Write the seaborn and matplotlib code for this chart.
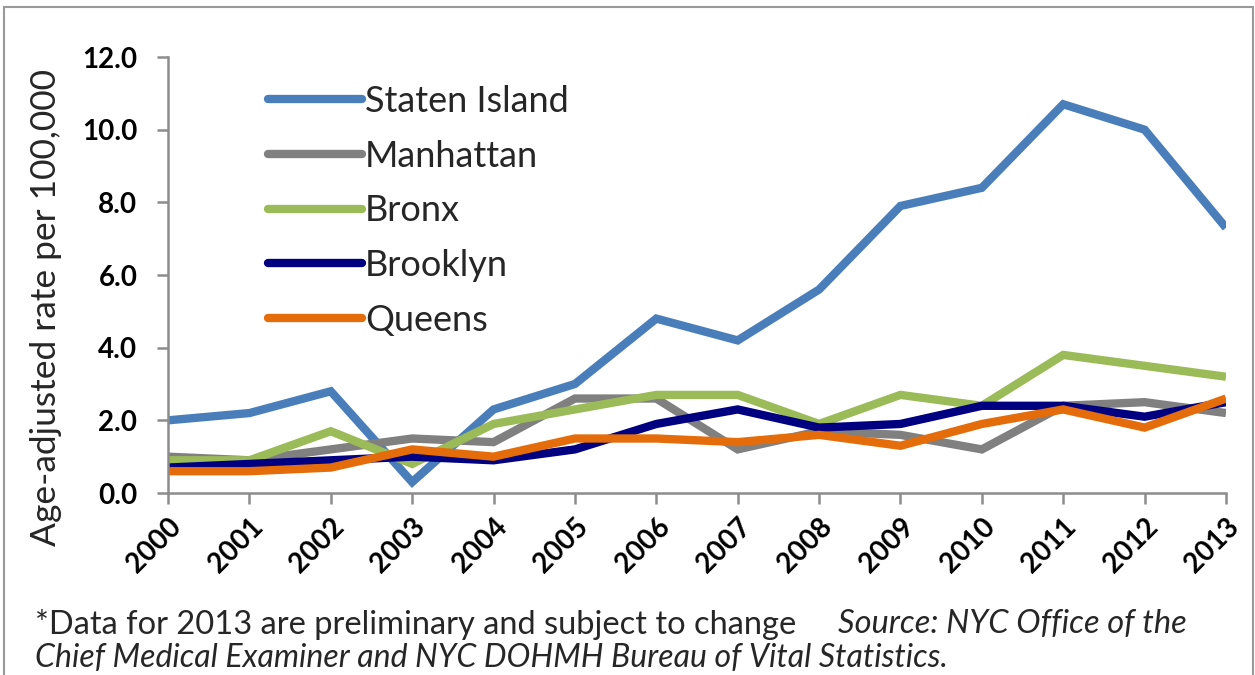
import matplotlib
matplotlib.use("Agg")
import matplotlib.pyplot as plt
import seaborn as sns
import pandas as pd
from matplotlib.patches import Rectangle

years = list(range(2000, 2014))
staten_island = [2.0, 2.2, 2.8, 0.3, 2.3, 3.0, 4.8, 4.2, 5.6, 7.9, 8.4, 10.7, 10.0, 7.3]
manhattan     = [1.0, 0.9, 1.2, 1.5, 1.4, 2.6, 2.6, 1.2, 1.7, 1.6, 1.2, 2.4, 2.5, 2.2]
bronx         = [0.9, 0.9, 1.7, 0.8, 1.9, 2.3, 2.7, 2.7, 1.9, 2.7, 2.4, 3.8, 3.5, 3.2]
brooklyn      = [0.7, 0.8, 0.9, 1.0, 0.9, 1.2, 1.9, 2.3, 1.8, 1.9, 2.4, 2.4, 2.1, 2.5]
queens        = [0.6, 0.6, 0.7, 1.2, 1.0, 1.5, 1.5, 1.4, 1.6, 1.3, 1.9, 2.3, 1.8, 2.6]

boroughs = ["Staten Island", "Manhattan", "Bronx", "Brooklyn", "Queens"]
colors = ["#4A7EBB", "#808080", "#9BBB59", "#000080", "#E46C0A"]
series = [staten_island, manhattan, bronx, brooklyn, queens]

rows = []
for name, vals in zip(boroughs, series):
    for y, v in zip(years, vals):
        rows.append({"Year": y, "Rate": v, "Borough": name})
df = pd.DataFrame(rows)

sns.set_theme(style="white")
plt.rcParams["font.family"] = ["Lato", "DejaVu Sans"]

W, H = 1255, 675
fig = plt.figure(figsize=(12.55, 6.75), dpi=100)
ax = fig.add_axes([168/W, 1 - 493/H, (1226-168)/W, (493-57)/H])

sns.lineplot(data=df, x="Year", y="Rate", hue="Borough", hue_order=boroughs,
             palette=dict(zip(boroughs, colors)), linewidth=6, ax=ax,
             solid_joinstyle="miter", solid_capstyle="butt")

ax.set_xlim(2000, 2013)
ax.set_ylim(0, 12)
yt = [0, 2, 4, 6, 8, 10, 12]
ax.set_yticks(yt)
ax.set_yticklabels([f"{v:.1f}" for v in yt], fontsize=20, fontweight="bold")
ax.set_xticks(years)
ax.set_xticklabels([str(y) for y in years], rotation=45, ha="right",
                   rotation_mode="anchor", fontsize=20, fontweight="bold")
for s in ["top", "right"]:
    ax.spines[s].set_visible(False)
for s in ["left", "bottom"]:
    ax.spines[s].set_color("#8c8c8c")
    ax.spines[s].set_linewidth(1.8)
ax.tick_params(axis="both", which="both", direction="out", length=8, width=1.8,
               color="#8c8c8c", left=True, bottom=True, labelcolor="black")
ax.tick_params(axis="y", pad=14)
ax.tick_params(axis="x", pad=7)
ax.set_xlabel("")
ax.set_ylabel("Age-adjusted rate per 100,000", fontsize=25.5)
ax.yaxis.set_label_coords((62 - 168) / (1226 - 168), (493 - 308) / (493 - 57))

leg = ax.legend(loc="upper left",
                bbox_to_anchor=((268 - 168) / 1058, (493 - 85) / 436),
                frameon=False, fontsize=26, handlelength=2.6, handletextpad=0.08,
                labelspacing=0.60, borderaxespad=0, borderpad=0)
for line in leg.get_lines():
    line.set_linewidth(6)
    line.set_solid_capstyle("round")

fig.text(35/W, 1 - 624/H, "*Data for 2013 are preliminary and subject to change",
         fontsize=23.5, va="center", ha="left")
fig.text(838/W, 1 - 624/H, "Source: NYC Office of the",
         fontsize=23.5, va="center", ha="left", style="italic")
fig.text(35/W, 1 - 658/H, "Chief Medical Examiner and NYC DOHMH Bureau of Vital Statistics.",
         fontsize=23, va="center", ha="left", style="italic")

fig.patches.append(Rectangle((4/W, -0.02), 1 - 6/W, 1 - 7/H + 0.02,
                             transform=fig.transFigure, fill=False,
                             edgecolor="#999999", linewidth=1.5))

fig.savefig("out.png", dpi=100)
